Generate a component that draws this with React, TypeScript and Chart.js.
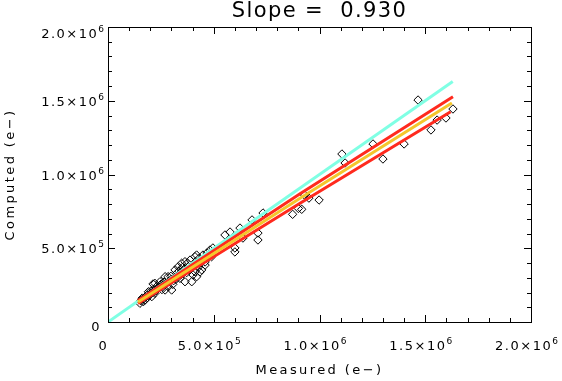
import React, { useEffect, useRef } from 'react';
import { Chart, registerables } from 'chart.js';

Chart.register(...registerables);

// Scatter data (electrons)
const measured = [
  1.51e5, 1.59e5, 1.67e5, 1.75e5, 1.83e5, 1.91e5, 2.0e5, 2.07e5, 2.13e5, 2.22e5,
  2.22e5, 2.38e5, 2.46e5, 2.55e5, 2.6e5, 2.7e5, 2.7e5, 2.84e5, 2.85e5, 3.0e5,
  3.01e5, 3.1e5, 3.17e5, 3.25e5, 3.3e5, 3.32e5, 3.4e5, 3.48e5, 3.55e5, 3.64e5,
  3.64e5, 3.8e5, 3.88e5, 3.9e5, 3.96e5, 4.02e5, 4.11e5, 4.11e5, 4.19e5, 4.19e5,
  4.35e5, 4.43e5, 4.49e5, 4.59e5, 4.59e5, 4.68e5, 4.82e5, 4.9e5, 4.96e5,
  1.55e5, 1.62e5, 1.7e5, 1.78e5, 1.86e5, 1.95e5, 2.03e5, 2.1e5, 2.18e5, 2.28e5,
  2.33e5, 2.42e5, 2.5e5, 2.58e5, 2.65e5, 2.76e5, 2.92e5, 2.97e5, 3.06e5, 3.14e5,
  3.22e5, 3.36e5, 3.44e5, 3.52e5, 3.6e5, 3.72e5, 3.76e5, 3.84e5, 4.05e5, 4.15e5,
  4.26e5, 4.3e5, 4.4e5, 4.55e5, 4.75e5,
  5.53e5, 5.77e5, 6.0e5, 6.0e5, 6.24e5, 6.38e5, 6.81e5, 7.09e5, 7.09e5, 7.33e5,
  8.73e5, 9.0e5, 9.16e5, 9.3e5, 9.5e5, 9.98e5,
  1.106e6, 1.121e6, 1.253e6, 1.3e6, 1.4e6, 1.466e6, 1.527e6, 1.556e6, 1.598e6, 1.631e6,
];
const computed = [
  1.27e5, 1.55e5, 1.38e5, 1.49e5, 1.8e5, 2.05e5, 1.9e5, 1.72e5, 2.58e5, 1.95e5,
  2.62e5, 2.28e5, 2.73e5, 2.2e5, 2.5e5, 2.17e5, 3.07e5, 3.07e5, 2.39e5, 2.9e5,
  2.17e5, 2.8e5, 3.53e5, 3.3e5, 3.1e5, 3.75e5, 2.96e5, 3.98e5, 3.3e5, 4.09e5,
  2.73e5, 3.75e5, 4.2e5, 3.6e5, 2.73e5, 3.19e5, 4.43e5, 3.41e5, 3.07e5, 4.54e5,
  3.39e5, 3.53e5, 4.54e5, 3.86e5, 4.07e5, 4.68e5, 4.88e5, 4.43e5, 5.02e5,
  1.45e5, 1.62e5, 1.58e5, 1.72e5, 1.65e5, 1.85e5, 2.1e5, 1.98e5, 2.2e5, 2.12e5,
  2.45e5, 2.35e5, 2.55e5, 2.38e5, 2.7e5, 2.6e5, 2.75e5, 3.1e5, 2.55e5, 3.0e5,
  2.9e5, 3.45e5, 3.2e5, 3.7e5, 3.5e5, 3.35e5, 4.0e5, 3.55e5, 3.8e5, 4.1e5,
  3.7e5, 4.3e5, 4.0e5, 4.3e5, 4.4e5,
  5.9e5, 6.1e5, 5.02e5, 4.75e5, 6.37e5, 5.69e5, 6.92e5, 6.03e5, 5.56e5, 7.39e5,
  7.3e5, 7.7e5, 7.64e5, 8.6e5, 8.4e5, 8.27e5,
  1.139e6, 1.078e6, 1.207e6, 1.105e6, 1.207e6, 1.505e6, 1.302e6, 1.369e6, 1.383e6, 1.444e6,
];

// One-to-one line
const unityX = [0, 1.63e6];
const unityY = [0, 1.63e6];
// Fit line (yellow)
const fitX = [1.42e5, 9.08e5, 1.626e6];
const fitY = [1.36e5, 8.39e5, 1.485e6];
// Upper / lower bounds (red)
const upperX = [1.42e5, 9.08e5, 1.631e6];
const upperY = [1.45e5, 8.7e5, 1.527e6];
const lowerX = [1.42e5, 9.08e5, 1.62e6];
const lowerY = [1.25e5, 8.05e5, 1.425e6];

// Axis ticks
const tickValues = [0, 5e5, 1e6, 1.5e6, 2e6];
const tickMain = ['0', '5.0×10', '1.0×10', '1.5×10', '2.0×10'];
const tickExp = ['', '5', '6', '6', '6'];
const minorStep = 1e5;

const titleText = 'Slope =  0.930';
const xTitle = 'Measured (e\u2212)';
const yTitle = 'Computed (e\u2212)';

const TICK_FONT = "13px 'DejaVu Sans', sans-serif";
const EXP_FONT = "9px 'DejaVu Sans', sans-serif";
const TITLE_FONT = "21px 'DejaVu Sans', sans-serif";
const AXIS_FONT = "13px 'DejaVu Sans', sans-serif";

const idlPlugin = {
  id: 'idlAxes',
  afterDraw(chart: any) {
    const { ctx, chartArea: a } = chart;
    const xs = chart.scales.x;
    const ys = chart.scales.y;
    const c = ctx as any;
    ctx.save();
    ctx.strokeStyle = '#000';
    ctx.fillStyle = '#000';
    ctx.lineWidth = 1;
    ctx.strokeRect(a.left + 0.5, a.top + 0.5, a.right - a.left, a.bottom - a.top);

    // ticks
    const n = Math.round(2e6 / minorStep);
    ctx.beginPath();
    for (let i = 0; i <= n; i++) {
      const v = i * minorStep;
      const len = i % 5 === 0 ? 7 : 4;
      const px = Math.round(xs.getPixelForValue(v)) + 0.5;
      ctx.moveTo(px, a.bottom);
      ctx.lineTo(px, a.bottom - len);
      ctx.moveTo(px, a.top);
      ctx.lineTo(px, a.top + len);
      const py = Math.round(ys.getPixelForValue(v)) + 0.5;
      ctx.moveTo(a.left, py);
      ctx.lineTo(a.left + len, py);
      ctx.moveTo(a.right, py);
      ctx.lineTo(a.right - len, py);
    }
    ctx.stroke();

    ctx.textBaseline = 'alphabetic';
    ctx.textAlign = 'left';
    const measureLabel = (i: number) => {
      ctx.font = TICK_FONT;
      c.letterSpacing = '1.5px';
      const mw = ctx.measureText(tickMain[i]).width;
      ctx.font = EXP_FONT;
      c.letterSpacing = '0px';
      const ew = tickExp[i] ? ctx.measureText(tickExp[i]).width : 0;
      return { mw, ew };
    };
    const drawLabel = (i: number, left: number, base: number, mw: number) => {
      ctx.font = TICK_FONT;
      c.letterSpacing = '1.5px';
      ctx.fillText(tickMain[i], left, base);
      if (tickExp[i]) {
        ctx.font = EXP_FONT;
        c.letterSpacing = '0px';
        ctx.fillText(tickExp[i], left + mw, base - 6);
      }
    };

    // x tick labels
    for (let i = 0; i < tickValues.length; i++) {
      const px = xs.getPixelForValue(tickValues[i]);
      const { mw, ew } = measureLabel(i);
      const total = mw + ew;
      const left = px - 4.5 - total / 2;
      drawLabel(i, left, 349.5, mw);
    }

    // y tick labels
    for (let i = 0; i < tickValues.length; i++) {
      let py = ys.getPixelForValue(tickValues[i]);
      if (i === tickValues.length - 1) py += 6;
      if (i === 0) py += 4;
      const { mw, ew } = measureLabel(i);
      const right = tickExp[i] ? 104 : 101;
      const left = right - ew - mw;
      drawLabel(i, left, py + 5, mw);
    }

    // title
    ctx.font = TITLE_FONT;
    c.letterSpacing = '1.4px';
    ctx.textAlign = 'center';
    ctx.fillText(titleText, (a.left + a.right) / 2, 17);

    // axis titles
    ctx.font = AXIS_FONT;
    c.letterSpacing = '2.4px';
    ctx.fillText(xTitle, (a.left + a.right) / 2, 373.5);
    ctx.save();
    ctx.translate(13.5, (a.top + a.bottom) / 2);
    ctx.rotate(-Math.PI / 2);
    ctx.fillText(yTitle, 0, 0);
    ctx.restore();
    c.letterSpacing = '0px';
    ctx.restore();
  },
};

function pts(xv: number[], yv: number[]) {
  return xv.map((v, i) => ({ x: v, y: yv[i] }));
}

export default function App() {
  const ref = useRef<HTMLCanvasElement>(null);
  useEffect(() => {
    if (!ref.current) return;
    const lineDs = (data: any, color: string) => ({
      type: 'line' as const,
      data,
      borderColor: color,
      borderWidth: 3,
      pointRadius: 0,
      fill: false,
      tension: 0,
    });
    const chart = new Chart(ref.current, {
      type: 'scatter',
      data: {
        datasets: [
          lineDs(pts(fitX, fitY), '#f4c62c') as any,
          lineDs(pts(upperX, upperY), '#ff2a1e') as any,
          lineDs(pts(lowerX, lowerY), '#ff2a1e') as any,
          lineDs(pts(unityX, unityY), '#80ffe4') as any,
          {
            type: 'scatter',
            data: pts(measured, computed),
            pointStyle: 'rectRot',
            pointRadius: 4.2,
            borderColor: '#000',
            borderWidth: 1,
            backgroundColor: 'rgba(0,0,0,0)',
          },
        ],
      },
      options: {
        animation: false,
        responsive: false,
        devicePixelRatio: 1,
        events: [],
        layout: { padding: { left: 0, top: 27, right: 31, bottom: 0 } },
        plugins: { legend: { display: false }, tooltip: { enabled: false }, title: { display: false } },
        scales: {
          x: {
            type: 'linear',
            min: 0,
            max: 2e6,
            ticks: { display: false },
            grid: { display: false },
            border: { display: false },
            afterFit: (s: any) => {
              s.height = 59;
              s.paddingLeft = 0;
              s.paddingRight = 0;
            },
          },
          y: {
            type: 'linear',
            min: 0,
            max: 2e6,
            ticks: { display: false },
            grid: { display: false },
            border: { display: false },
            afterFit: (s: any) => {
              s.width = 108;
              s.paddingTop = 0;
              s.paddingBottom = 0;
            },
          },
        },
      },
      plugins: [idlPlugin],
    });
    return () => chart.destroy();
  }, []);
  return (
    <canvas
      ref={ref}
      width={562}
      height={381}
      style={{ position: 'absolute', left: 0, top: 0, display: 'block', background: '#fff' }}
    />
  );
}
